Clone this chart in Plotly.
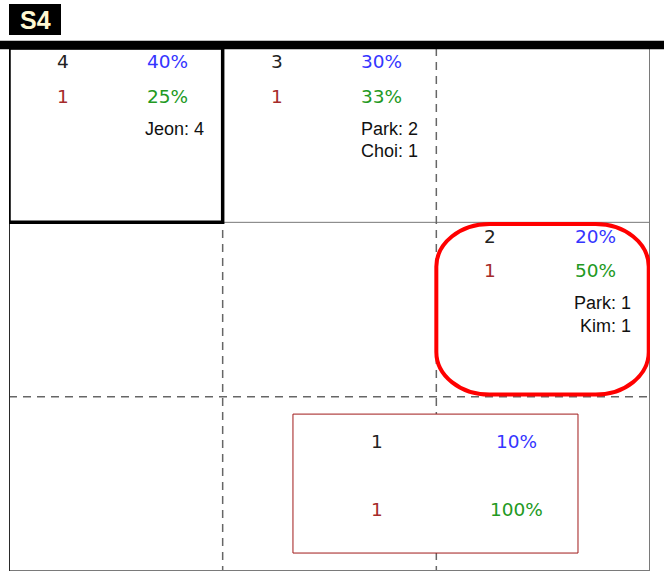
import plotly.graph_objects as go

# ---- data ----
cell_rows = [0, 0, 1]
cell_cols = [0, 1, 2]
counts = ["4", "3", "2"]
count_pcts = ["40%", "30%", "20%"]
subs = ["1", "1", "1"]
sub_pcts = ["25%", "33%", "50%"]
names = [["Jeon: 4"], ["Park: 2", "Choi: 1"], ["Park: 1", "Kim: 1"]]

bottom_count = "1"
bottom_pct = "10%"
bottom_sub = "1"
bottom_sub_pct = "100%"

title_text = "S4"

# ---- layout helpers ----
W, H = 664, 574
L, R, T, B = 9, 650, 48, 571          # plot-area pixel edges


def px_x(p):       # pixel x -> paper
    return (p - L) / (R - L)


def px_y(p):       # pixel y -> paper
    return (B - p) / (B - T)


NUM_FONT = "DejaVu Sans"
NAME_FONT = "Liberation Sans, Arial"
NUM_SIZE = 18.5
NAME_SIZE = 18
C_COUNT = "#222222"
C_PCT = "#3535ff"
C_SUB = "#a52a2a"
C_SUBPCT = "#229922"

fig = go.Figure()
fig.add_trace(go.Scatter(x=[0, 3], y=[0, 3], mode="markers",
                         marker=dict(opacity=0), hoverinfo="skip", showlegend=False))

ann = []


def add_text(x, y, text, color, font, size, xanchor="center"):
    ann.append(dict(x=x, y=y, xref="x", yref="y", text=text, showarrow=False,
                    xanchor=xanchor, yanchor="middle",
                    font=dict(family=font, size=size, color=color)))


for r, c, n, p, s, sp, nm in zip(cell_rows, cell_cols, counts, count_pcts, subs, sub_pcts, names):
    add_text(c + 0.2527, r + 0.080, n, C_COUNT, NUM_FONT, NUM_SIZE)
    add_text(c + 0.744, r + 0.080, p, C_PCT, NUM_FONT, NUM_SIZE)
    add_text(c + 0.2527, r + 0.279, s, C_SUB, NUM_FONT, NUM_SIZE)
    add_text(c + 0.744, r + 0.279, sp, C_SUBPCT, NUM_FONT, NUM_SIZE)
    for i, line in enumerate(nm):
        add_text(c + 0.922, r + 0.465 + i * 0.127, line, "#111111", NAME_FONT, NAME_SIZE, xanchor="right")

add_text(1.721, 2.258, bottom_count, C_COUNT, NUM_FONT, NUM_SIZE)
add_text(2.376, 2.258, bottom_pct, C_PCT, NUM_FONT, NUM_SIZE)
add_text(1.721, 2.646, bottom_sub, C_SUB, NUM_FONT, NUM_SIZE)
add_text(2.376, 2.646, bottom_sub_pct, C_SUBPCT, NUM_FONT, NUM_SIZE)

# title
ann.append(dict(x=px_x(35), y=px_y(19.5), xref="paper", yref="paper", text="<b>" + title_text + "</b>",
                showarrow=False, xanchor="center", yanchor="middle",
                font=dict(family="Liberation Sans, Arial", size=25, color="#fff8d2")))

shapes = []
GRAY = "#666666"
# grid lines
shapes.append(dict(type="line", xref="x", yref="y", x0=0, x1=3, y0=1, y1=1,
                   line=dict(color="#777777", width=1)))
shapes.append(dict(type="line", xref="x", yref="y", x0=0, x1=3, y0=2, y1=2,
                   line=dict(color=GRAY, width=1.5, dash="8px,6px")))
for xv in [1, 2]:
    shapes.append(dict(type="line", xref="x", yref="y", x0=xv, x1=xv, y0=0, y1=3,
                       line=dict(color=GRAY, width=1.5, dash="8px,6px")))
# outer border
shapes.append(dict(type="rect", xref="x", yref="y", x0=0, x1=3, y0=0, y1=3,
                   line=dict(color="#7a7a7a", width=2)))
shapes.append(dict(type="line", xref="x", yref="y", x0=0, x1=0, y0=0, y1=3,
                   line=dict(color="#111111", width=1.5)))
# top thick bar
shapes.append(dict(type="line", xref="paper", yref="paper", x0=px_x(0), x1=px_x(W),
                   y0=px_y(45), y1=px_y(45), line=dict(color="#000000", width=8.5)))
# title box
shapes.append(dict(type="rect", xref="paper", yref="paper", x0=px_x(9), x1=px_x(61),
                   y0=px_y(35), y1=px_y(4), fillcolor="#000000", line=dict(width=0)))
# highlight box top-left cell
shapes.append(dict(type="rect", xref="x", yref="y", x0=0, x1=1, y0=0, y1=1,
                   line=dict(color="#000000", width=3.5)))
# red rounded rect on cell (1,2)
x0, x1, y0, y1 = 2.0, 2.994, 1.01, 1.988
rx, ry, k = 0.25 * (x1 - x0), 0.25 * (y1 - y0), 0.5523
path = (f"M {x0+rx},{y0} L {x1-rx},{y0} "
        f"C {x1-rx+k*rx},{y0} {x1},{y0+ry-k*ry} {x1},{y0+ry} "
        f"L {x1},{y1-ry} "
        f"C {x1},{y1-ry+k*ry} {x1-rx+k*rx},{y1} {x1-rx},{y1} "
        f"L {x0+rx},{y1} "
        f"C {x0+rx-k*rx},{y1} {x0},{y1-ry+k*ry} {x0},{y1-ry} "
        f"L {x0},{y0+ry} "
        f"C {x0},{y0+ry-k*ry} {x0+rx-k*rx},{y0} {x0+rx},{y0} Z")
shapes.append(dict(type="path", xref="x", yref="y", path=path,
                   line=dict(color="#ff0000", width=4)))
# dark red rect in bottom row (white fill hides the grid line beneath)
shapes.append(dict(type="rect", xref="x", yref="y", x0=1.329, x1=2.663, y0=2.10, y1=2.897,
                   fillcolor="#ffffff", line=dict(color="#a01a1a", width=1)))

fig.update_layout(
    width=W, height=H,
    margin=dict(l=L, r=W - R, t=T, b=H - B, pad=0),
    paper_bgcolor="white", plot_bgcolor="white",
    xaxis=dict(range=[0, 3], visible=False, showgrid=False, zeroline=False, fixedrange=True),
    yaxis=dict(range=[3, 0], visible=False, showgrid=False, zeroline=False, fixedrange=True),
    shapes=shapes, annotations=ann, showlegend=False,
)

fig.write_html("out.html", config=dict(displayModeBar=False),
               post_script="document.body.style.margin='0';document.body.style.overflow='hidden';")
